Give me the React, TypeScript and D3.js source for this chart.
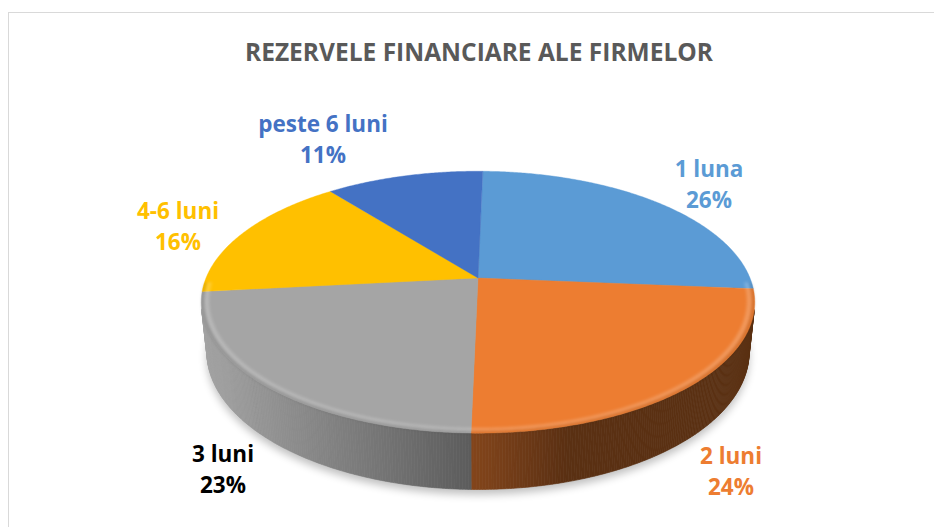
import React from "react";
import * as d3 from "d3";

// ---- data ----
const categories = ["1 luna", "2 luni", "3 luni", "4-6 luni", "peste 6 luni"];
const values = [26, 24, 23, 16, 11];
const percentLabels = ["26%", "24%", "23%", "16%", "11%"];
const sliceColors = ["#5B9BD5", "#ED7D31", "#A5A5A5", "#FFC000", "#4472C4"];
const labelColors = ["#5B9BD5", "#ED7D31", "#000000", "#FFC000", "#4472C4"];
const chartTitle = "REZERVELE FINANCIARE ALE FIRMELOR";

// ---- layout ----
const W = 934;
const H = 527;
const CX = 478;
const CY = 278;
const R = 0.2087;
const ALPHA = Math.asin(0.465);
const F = 272 / R;
const DEPTH = 0.0435;
const ROT = (1.2 * Math.PI) / 180;
const STEP = (0.5 * Math.PI) / 180;
// label anchor (center x, first baseline) for each category
const labelAnchors: [number, number][] = [
  [709, 177],
  [731, 464],
  [223, 462],
  [178, 219],
  [323, 132],
];
const LINE_GAP = 31;

const CA = Math.cos(ALPHA);
const SA = Math.sin(ALPHA);

function project(X: number, Y: number, Z: number): [number, number] {
  const u = Y * CA - Z * SA;
  const w = 1 - (Z * CA + Y * SA);
  return [CX + (F * X) / w, CY - (F * u) / w];
}
function rim(theta: number, r: number, Y: number): [number, number] {
  return project(r * Math.sin(theta), Y, -r * Math.cos(theta));
}
function samples(a0: number, a1: number): number[] {
  const n = Math.max(2, Math.ceil((a1 - a0) / STEP));
  return d3.range(n + 1).map((i) => a0 + ((a1 - a0) * i) / n);
}
const pts = (p: [number, number][]) =>
  p.map((q) => `${q[0].toFixed(2)},${q[1].toFixed(2)}`).join(" L");

const LIGHT = (() => {
  const v = [-0.96, 0.27];
  const m = Math.hypot(v[0], v[1]);
  return [v[0] / m, v[1] / m];
})();
function shade(color: string, theta: number) {
  const nx = Math.sin(theta);
  const nz = -Math.cos(theta);
  const dot = Math.max(0, nx * LIGHT[0] + nz * LIGHT[1]);
  const b = 0.38 + 0.6 * dot;
  const c = d3.rgb(color);
  return d3.rgb(c.r * b, c.g * b, c.b * b).formatHex();
}

function ring(a0: number, a1: number, r0: number, r1: number) {
  const outer = samples(a0, a1).map((t) => rim(t, R * r1, 0));
  const inner = samples(a0, a1)
    .reverse()
    .map((t) => rim(t, R * r0, 0));
  return "M" + pts([...outer, ...inner]) + "Z";
}

export default function App() {
  const arcs = d3
    .pie<number>()
    .sort(null)
    .startAngle(ROT)
    .endAngle(ROT + 2 * Math.PI)(values);

  const center = project(0, 0, 0);
  const visLimit = -R / CA;

  // side quads
  const sideQuads: { d: string; fill: string }[] = [];
  arcs.forEach((a, i) => {
    const s = samples(a.startAngle, a.endAngle);
    for (let k = 0; k < s.length - 1; k++) {
      const t0 = s[k];
      const t1 = s[k + 1];
      const tm = (t0 + t1) / 2;
      if (Math.cos(tm) >= visLimit) continue;
      const p = [rim(t0, R, 0), rim(t1, R, 0), rim(t1, R, -DEPTH), rim(t0, R, -DEPTH)];
      sideQuads.push({ d: "M" + pts(p) + "Z", fill: shade(sliceColors[i], tm) });
    }
  });

  // top faces
  const topPaths = arcs.map((a) => {
    const p = samples(a.startAngle, a.endAngle).map((t) => rim(t, R, 0));
    return "M" + pts([center, ...p]) + "Z";
  });

  // shadow
  const shadowPath =
    "M" + pts(samples(0, 2 * Math.PI).map((t) => rim(t, R * 1.0, -DEPTH))) + "Z";

  const ringA = (92 * Math.PI) / 180;
  const ringB = (268 * Math.PI) / 180;
  const hiPath = ring(ringA, ringB, 0.972, 0.99);
  const dkPath = ring(ringA, ringB, 0.99, 1.0);

  const font = "'Open Sans', 'DejaVu Sans', sans-serif";

  return (
    <svg
      width={W}
      height={H}
      viewBox={`0 0 ${W} ${H}`}
      style={{ position: "absolute", left: 0, top: 0, background: "#fff" }}
    >
      <defs>
        <filter id="shadowBlur" x="-20%" y="-20%" width="140%" height="140%">
          <feGaussianBlur stdDeviation="4" />
        </filter>
        <filter id="softBlur" x="-10%" y="-10%" width="120%" height="120%">
          <feGaussianBlur stdDeviation="1.4" />
        </filter>
      </defs>
      <rect x={0} y={0} width={W} height={H} fill="#ffffff" />
      <rect
        x={8.5}
        y={12.5}
        width={W + 20}
        height={H + 20}
        fill="#ffffff"
        stroke="#d9d9d9"
        strokeWidth={1}
      />
      <text
        x={479}
        y={61}
        textAnchor="middle"
        fontFamily={font}
        fontWeight={700}
        fontSize={25}
        fill="#595959"
        textLength={468}
        lengthAdjust="spacingAndGlyphs"
      >
        {chartTitle}
      </text>

      <g>
        <path
          d={shadowPath}
          transform="translate(0,5)"
          fill="#000"
          opacity={0.25}
          filter="url(#shadowBlur)"
        />
        {sideQuads.map((q, i) => (
          <path key={"s" + i} d={q.d} fill={q.fill} stroke={q.fill} strokeWidth={0.6} />
        ))}
        {topPaths.map((d, i) => (
          <path key={"t" + i} d={d} fill={sliceColors[i]} stroke={sliceColors[i]} strokeWidth={0.4} />
        ))}
        <path d={hiPath} fill="#ffffff" opacity={0.2} filter="url(#softBlur)" />
        <path d={dkPath} fill="#000000" opacity={0.12} filter="url(#softBlur)" />
      </g>

      {categories.map((c, i) => (
        <text
          key={"l" + i}
          textAnchor="middle"
          fontFamily={font}
          fontWeight={700}
          fontSize={22.5}
          fill={labelColors[i]}
        >
          <tspan x={labelAnchors[i][0]} y={labelAnchors[i][1]}>
            {c}
          </tspan>
          <tspan x={labelAnchors[i][0]} y={labelAnchors[i][1] + LINE_GAP}>
            {percentLabels[i]}
          </tspan>
        </text>
      ))}
    </svg>
  );
}
